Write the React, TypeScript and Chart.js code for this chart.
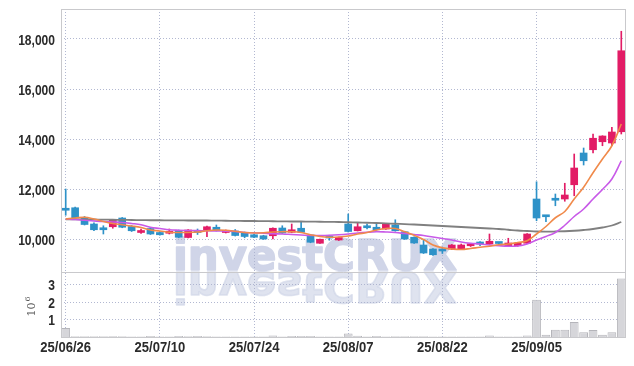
import React, { useEffect, useRef } from 'react';
import { Chart, registerables } from 'chart.js';

Chart.register(...registerables);

const dates = [
  '25/06/26', '25/06/27', '25/06/30', '25/07/01', '25/07/02', '25/07/03', '25/07/04', '25/07/07', '25/07/08', '25/07/09',
  '25/07/10', '25/07/11', '25/07/14', '25/07/15', '25/07/16', '25/07/17', '25/07/18', '25/07/21', '25/07/22', '25/07/23',
  '25/07/24', '25/07/25', '25/07/28', '25/07/29', '25/07/30', '25/07/31', '25/08/01', '25/08/04', '25/08/05', '25/08/06',
  '25/08/07', '25/08/08', '25/08/11', '25/08/12', '25/08/13', '25/08/14', '25/08/18', '25/08/19', '25/08/20', '25/08/21',
  '25/08/22', '25/08/25', '25/08/26', '25/08/27', '25/08/28', '25/08/29', '25/09/01', '25/09/02', '25/09/03', '25/09/04',
  '25/09/05', '25/09/08', '25/09/09', '25/09/10', '25/09/11', '25/09/12', '25/09/15', '25/09/16', '25/09/17', '25/09/18',
];

const opens = [
  11200, 11250, 10850, 10600, 10430, 10490, 10840, 10500, 10260, 10420,
  10260, 10230, 10330, 10060, 10300, 10360, 10470, 10260, 10320, 10250,
  10170, 10130, 10130, 10440, 10270, 10430, 10160, 9830, 10070, 9960,
  10600, 10330, 10480, 10470, 10400, 10560, 10290, 10070, 9760, 9600,
  9540, 9600, 9600, 9730, 9830, 9800, 9840, 9720, 9730, 9830,
  11600, 10930, 11590, 11600, 12170, 13440, 13570, 13890, 13840, 14290,
];
const highs = [
  12000, 11280, 10900, 10650, 10530, 10780, 10860, 10540, 10400, 10460,
  10290, 10400, 10360, 10380, 10400, 10520, 10560, 10360, 10380, 10280,
  10200, 10150, 10450, 10530, 10600, 10670, 10180, 10000, 10150, 10080,
  11000, 10640, 10600, 10590, 10620, 10770, 10310, 10090, 9960, 9620,
  9620, 9780, 9800, 9820, 9900, 10200, 9870, 10030, 9850, 10220,
  12290, 10950, 11800, 12230, 13400, 13640, 14200, 14130, 14470, 18310,
];
const lows = [
  10950, 10850, 10560, 10330, 10200, 10430, 10450, 10300, 10220, 10180,
  10150, 10200, 10050, 10040, 10180, 10090, 10320, 10240, 10120, 10050,
  10050, 9980, 10000, 10220, 10250, 10250, 9850, 9820, 9950, 9940,
  10280, 10320, 10400, 10350, 10380, 10310, 9980, 9820, 9420, 9340,
  9420, 9580, 9580, 9700, 9730, 9780, 9800, 9700, 9710, 9820,
  10730, 10690, 11330, 11510, 11730, 12960, 13440, 13730, 13730, 14200,
];
const closes = [
  11150, 10850, 10580, 10370, 10370, 10760, 10470, 10330, 10330, 10200,
  10170, 10300, 10070, 10360, 10260, 10490, 10340, 10330, 10140, 10100,
  10070, 10000, 10430, 10240, 10370, 10270, 9870, 9990, 10040, 10060,
  10300, 10490, 10450, 10370, 10600, 10330, 10000, 9840, 9440, 9370,
  9520, 9760, 9760, 9800, 9800, 9910, 9820, 9840, 9830, 10200,
  10840, 10890, 11550, 11760, 12840, 13130, 14030, 14120, 14280, 17530,
];

// volume in millions of shares
const volumesM = [
  0.52, 0.05, 0.05, 0.05, 0.05, 0.04, 0.05, 0.03, 0.03, 0.06,
  0.03, 0.03, 0.06, 0.05, 0.06, 0.05, 0.03, 0.03, 0.03, 0.03,
  0.03, 0.03, 0.08, 0.03, 0.06, 0.06, 0.06, 0.03, 0.03, 0.03,
  0.2, 0.07, 0.03, 0.06, 0.03, 0.05, 0.05, 0.05, 0.05, 0.03,
  0.03, 0.03, 0.03, 0.03, 0.03, 0.08, 0.03, 0.03, 0.03, 0.08,
  2.14, 0.13, 0.42, 0.42, 0.86, 0.27, 0.4, 0.13, 0.27, 3.36,
];

const maShort = [
  10800, 10840, 10867, 10800, 10700, 10620, 10570, 10520, 10460, 10360,
  10320, 10270, 10260, 10260, 10280, 10330, 10360, 10350, 10310, 10260,
  10240, 10250, 10280, 10293, 10290, 10260, 10170, 10100, 10070, 10080,
  10120, 10200, 10260, 10360, 10420, 10420, 10290, 10150, 9980, 9760,
  9650, 9600, 9580, 9620, 9670, 9710, 9770, 9800, 9860, 9930,
  10200, 10500, 10850, 11100, 11600, 12070, 12650, 13200, 13730, 14600,
];
const maMid = [
  10800, 10780, 10750, 10720, 10700, 10680, 10660, 10620, 10570, 10470,
  10420, 10370, 10350, 10340, 10335, 10330, 10320, 10315, 10305, 10260,
  10250, 10230, 10210, 10200, 10180, 10160, 10140, 10140, 10150, 10170,
  10200, 10240, 10270, 10290, 10280, 10260, 10220, 10180, 10140, 10080,
  10020, 9960, 9880, 9830, 9800, 9760, 9730, 9710, 9720, 9800,
  9960, 10100, 10260, 10550, 10900, 11200, 11600, 11980, 12400, 13130,
];
const maLong = [
  10790, 10790, 10785, 10780, 10775, 10770, 10765, 10760, 10755, 10750,
  10750, 10745, 10745, 10740, 10740, 10740, 10735, 10730, 10725, 10720,
  10720, 10715, 10710, 10705, 10700, 10700, 10695, 10690, 10685, 10680,
  10670, 10660, 10650, 10640, 10625, 10610, 10595, 10580, 10560, 10540,
  10520, 10500, 10480, 10460, 10440, 10420, 10400, 10370, 10340, 10320,
  10300, 10295, 10300, 10310, 10330, 10360, 10400, 10460, 10540, 10680,
];

const priceTicks = [10000, 12000, 14000, 16000, 18000];
const volTicksM = [1, 2, 3];
const labelEvery = 10;

const UP = '#e21c66';
const DOWN = '#2e92c8';
const GRID = 'rgba(170,176,204,0.9)';
const FRAME = '#c9c9cc';
const TICK_COLOR = '#2b2b2b';
const TICK_FONT = 'bold 14px "Liberation Sans", Arial, sans-serif';

const watermarkPlugin = {
  id: 'watermark',
  beforeDraw(chart: any) {
    const { ctx, chartArea } = chart;
    const text = 'investCRUX';
    ctx.save();
    ctx.font = 'bold 42px "DejaVu Sans"';
    const w = ctx.measureText(text).width;
    const sx = 284 / w;
    const x0 = chartArea.left + 112;
    const base = chartArea.top + 261;
    ctx.fillStyle = '#d0d5e8';
    ctx.strokeStyle = '#d0d5e8';
    ctx.lineWidth = 1.6;
    ctx.lineJoin = 'round';
    ctx.save();
    ctx.translate(x0, base);
    ctx.scale(sx, 1);
    ctx.fillText(text, 0, 0);
    ctx.strokeText(text, 0, 0);
    ctx.restore();
    ctx.save();
    ctx.globalAlpha = 0.68;
    ctx.translate(x0, base + 2);
    ctx.scale(sx, -1);
    ctx.fillText(text, 0, 0);
    ctx.strokeText(text, 0, 0);
    ctx.restore();
    ctx.restore();
  },
};

const framePlugin = {
  id: 'frame',
  afterDraw(chart: any) {
    const { ctx, chartArea } = chart;
    const yPrice = chart.scales.y;
    const yVol = chart.scales.yVol;
    const xs = chart.scales.x;
    ctx.save();
    ctx.strokeStyle = FRAME;
    ctx.lineWidth = 1;
    ctx.strokeRect(chartArea.left + 0.5, chartArea.top + 0.5, chartArea.right - chartArea.left - 1, chartArea.bottom - chartArea.top);
    ctx.beginPath();
    ctx.moveTo(chartArea.left, Math.round(yPrice.bottom) + 0.5);
    ctx.lineTo(chartArea.right, Math.round(yPrice.bottom) + 0.5);
    ctx.stroke();

    // tick labels
    ctx.fillStyle = TICK_COLOR;
    ctx.font = TICK_FONT;
    ctx.textAlign = 'right';
    ctx.textBaseline = 'middle';
    for (const t of yPrice.ticks) {
      const y = yPrice.getPixelForValue(t.value);
      ctx.save();
      ctx.translate(yPrice.right - 6, y + 2);
      ctx.scale(0.86, 1);
      ctx.fillText(Number(t.value).toLocaleString('en-US'), 0, 0);
      ctx.restore();
    }
    for (const t of yVol.ticks) {
      const y = yVol.getPixelForValue(t.value);
      ctx.save();
      ctx.translate(yVol.right - 6, y + 1.5);
      ctx.scale(0.86, 1);
      ctx.fillText(String(t.value), 0, 0);
      ctx.restore();
    }
    ctx.textAlign = 'center';
    for (const t of xs.ticks) {
      const x = xs.getPixelForValue(t.value);
      ctx.save();
      ctx.translate(x, xs.top + 11);
      ctx.scale(0.93, 1);
      ctx.fillText(dates[t.value], 0, 0);
      ctx.restore();
    }

    // 10^6 title
    const cy = (yVol.top + yVol.bottom) / 2;
    ctx.fillStyle = '#555';
    ctx.textAlign = 'left';
    ctx.textBaseline = 'alphabetic';
    ctx.translate(35, cy + 12);
    ctx.rotate(-Math.PI / 2);
    ctx.font = '11px "DejaVu Serif"';
    ctx.fillText('10', 0, 0);
    const w = ctx.measureText('10').width;
    ctx.font = '8px "DejaVu Serif"';
    ctx.fillText('6', w + 1, -5);
    ctx.restore();
  },
};

export default function App() {
  const ref = useRef<HTMLCanvasElement | null>(null);

  useEffect(() => {
    document.body.style.margin = '0';
    const canvas = ref.current;
    if (!canvas) return;
    const colors = closes.map((c, i) => (c >= opens[i] ? UP : DOWN));
    const chart = new Chart(canvas, {
      type: 'bar',
      data: {
        labels: dates,
        datasets: [
          {
            type: 'line',
            label: 'MA short',
            data: maShort,
            yAxisID: 'y',
            borderColor: '#f08a4b',
            borderWidth: 1.6,
            pointRadius: 0,
            tension: 0.4,
            order: 0,
          } as any,
          {
            type: 'line',
            label: 'MA mid',
            data: maMid,
            yAxisID: 'y',
            borderColor: '#c85ae8',
            borderWidth: 1.6,
            pointRadius: 0,
            tension: 0.4,
            order: 0,
          } as any,
          {
            type: 'line',
            label: 'MA long',
            data: maLong,
            yAxisID: 'y',
            borderColor: '#808080',
            borderWidth: 1.8,
            pointRadius: 0,
            tension: 0.4,
            order: 0,
          } as any,
          {
            label: 'body',
            data: opens.map((o, i) => [o, closes[i]]),
            yAxisID: 'y',
            backgroundColor: colors,
            borderWidth: 0,
            barThickness: 7,
            minBarLength: 2,
            grouped: false,
            order: 1,
          } as any,
          {
            label: 'wick',
            data: lows.map((l, i) => [l, highs[i]]),
            yAxisID: 'y',
            backgroundColor: colors,
            borderWidth: 0,
            barThickness: 1,
            grouped: false,
            order: 2,
          } as any,
          {
            label: 'volume',
            data: volumesM,
            yAxisID: 'yVol',
            backgroundColor: '#d6d6da',
            borderColor: '#b5b5ba',
            borderWidth: 1,
            barPercentage: 0.93,
            categoryPercentage: 1,
            grouped: false,
            order: 3,
          } as any,
        ],
      },
      options: {
        animation: false,
        responsive: false,
        devicePixelRatio: 1,
        layout: { padding: { top: 9, right: 8, left: 0, bottom: 0 } },
        plugins: { legend: { display: false }, tooltip: { enabled: false } },
        scales: {
          x: {
            type: 'category',
            offset: true,
            grid: { offset: false, color: GRID, drawTicks: false },
            border: { display: false, dash: [1, 2] },
            ticks: { display: false, autoSkip: false, maxRotation: 0 },
            afterBuildTicks: (s: any) => {
              s.ticks = s.ticks.filter((t: any, i: number) => i % labelEvery === 0);
            },
            afterFit: (s: any) => { s.height = 29; },
          },
          yVol: {
            type: 'linear',
            position: 'left',
            stack: 'main',
            stackWeight: 65,
            min: 0,
            max: 3.73,
            grid: { color: GRID, drawTicks: false },
            border: { display: false, dash: [1, 2] },
            ticks: { display: false, autoSkip: false },
            afterBuildTicks: (s: any) => { s.ticks = volTicksM.map((v) => ({ value: v })); },
            afterFit: (s: any) => { s.width = 61; },
          },
          y: {
            type: 'linear',
            position: 'left',
            stack: 'main',
            stackWeight: 263,
            min: 8680,
            max: 19200,
            grid: { color: GRID, drawTicks: false },
            border: { display: false, dash: [1, 2] },
            ticks: { display: false, autoSkip: false },
            afterBuildTicks: (s: any) => { s.ticks = priceTicks.map((v) => ({ value: v })); },
            afterFit: (s: any) => { s.width = 61; },
          },
        },
      } as any,
      plugins: [watermarkPlugin, framePlugin],
    });
    return () => chart.destroy();
  }, []);

  return (
    <div style={{ width: 634, height: 366 }}>
      <canvas ref={ref} width={634} height={366} style={{ display: 'block' }} />
    </div>
  );
}
